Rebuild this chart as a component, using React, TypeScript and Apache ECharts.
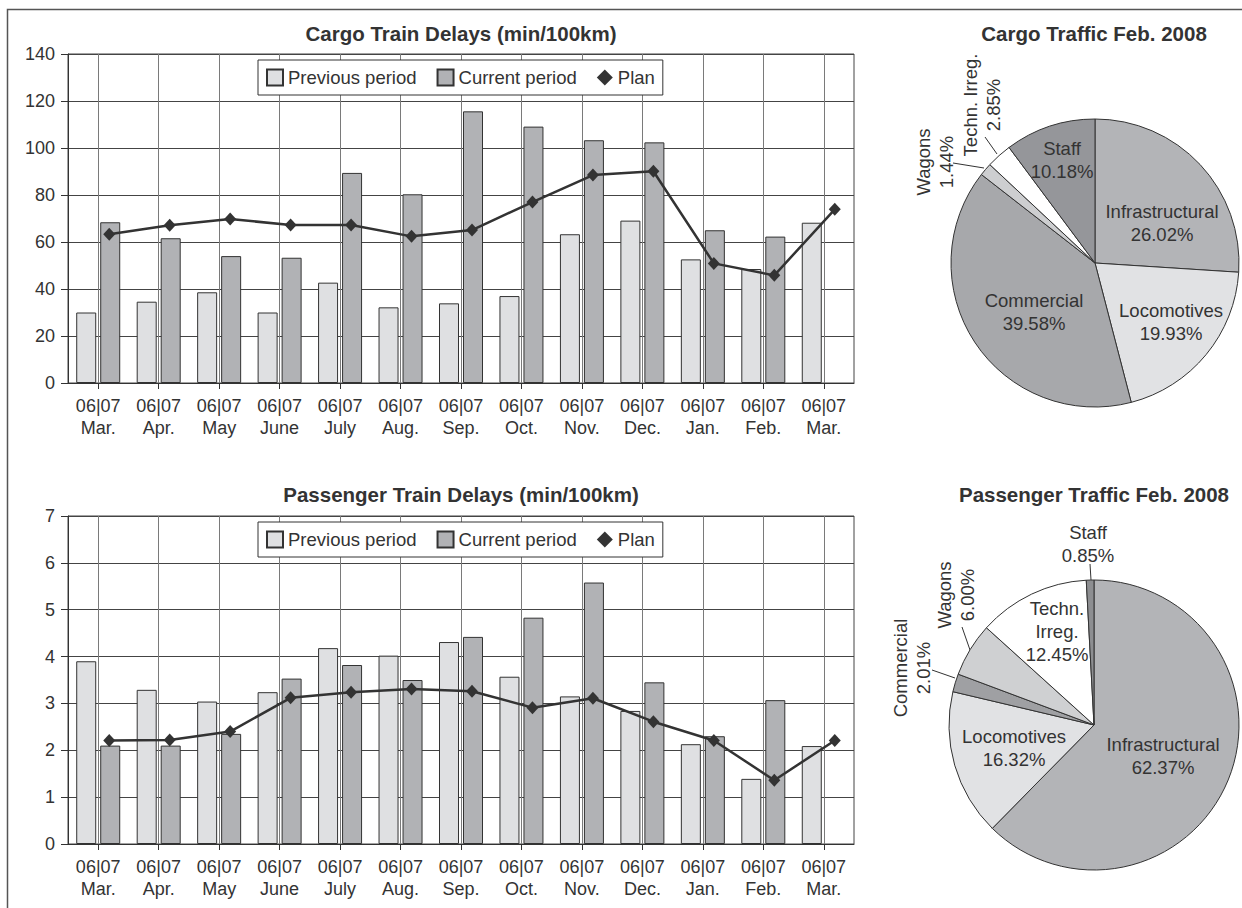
import React, { useEffect, useRef } from "react";
import * as echarts from "echarts";

// ---------- data ----------
const months = ["Mar.", "Apr.", "May", "June", "July", "Aug.", "Sep.", "Oct.", "Nov.", "Dec.", "Jan.", "Feb.", "Mar."];
const periodLabel = "06|07";

const cargoPrev = [30, 34.6, 38.6, 30, 42.7, 32.2, 33.9, 37, 63.3, 69.1, 52.6, 48.5, 68.2];
const cargoCurr = [68.4, 61.6, 54, 53.3, 89.4, 80.3, 115.6, 109.1, 103.3, 102.4, 65, 62.3, null];
const cargoPlan = [63.3, 67.1, 69.8, 67.2, 67.2, 62.4, 65.1, 77, 88.5, 90.1, 50.9, 45.8, 73.9];

const paxPrev = [3.9, 3.29, 3.04, 3.24, 4.18, 4.02, 4.31, 3.57, 3.15, 2.84, 2.13, 1.39, 2.09];
const paxCurr = [2.1, 2.1, 2.35, 3.53, 3.82, 3.5, 4.42, 4.83, 5.58, 3.45, 2.3, 3.07, null];
const paxPlan = [2.21, 2.22, 2.4, 3.12, 3.24, 3.31, 3.26, 2.91, 3.11, 2.61, 2.21, 1.36, 2.21];

const cargoAxis = { min: 0, max: 140, interval: 20 };
const paxAxis = { min: 0, max: 7, interval: 1 };

const causes = ["Infrastructural", "Locomotives", "Commercial", "Wagons", "Techn. Irreg.", "Staff"];
const cargoShares = [26.02, 19.93, 39.58, 1.44, 2.85, 10.18];
const paxShares = [62.37, 16.32, 2.01, 6.0, 12.45, 0.85];

const seriesNames = ["Previous period", "Current period", "Plan"];
const titles = {
  cargoBar: "Cargo Train Delays (min/100km)",
  paxBar: "Passenger Train Delays (min/100km)",
  cargoPie: "Cargo Traffic Feb. 2008",
  paxPie: "Passenger Traffic Feb. 2008",
};

// ---------- styles ----------
const FONT = '"Liberation Sans", Arial, Helvetica, sans-serif';
const TXT = "#333";
const LIGHT = "#dfe0e2";
const DARK = "#b1b2b5";
const cargoColors = ["#b3b4b7", "#e1e2e4", "#a7a8ab", "#cdced0", "#ffffff", "#95969a"];
const paxColors = ["#b3b4b7", "#e1e2e4", "#9fa0a3", "#cfd0d2", "#ffffff", "#8d8e91"];

// label placement (layout only)
const cargoLabelLayout: any[] = [
  { x: 1162, y: 223 },
  { x: 1171, y: 322 },
  { x: 1034, y: 312 },
  { x: 935, y: 162, rotate: 90, line: [[984, 168], [953, 163]] },
  { x: 982, y: 105, rotate: 90, line: [[997, 154], [985, 137]] },
  { x: 1062, y: 160 },
];
const paxLabelLayout: any[] = [
  { x: 1163, y: 756 },
  { x: 1014, y: 748 },
  { x: 912, y: 668, rotate: 90, line: [[955, 678], [932, 670]] },
  { x: 956, y: 595, rotate: 90, line: [[970, 650], [962, 627]] },
  { x: 1057, y: 631 },
  { x: 1088, y: 544, line: [[1091, 580], [1090, 564]] },
];

function layoutFn(table: any[]) {
  return (p: any) => {
    const t = table[p.dataIndex];
    const out: any = { x: t.x, y: t.y, align: "center", verticalAlign: "middle", rotate: t.rotate || 0 };
    if (t.line) out.labelLinePoints = [t.line[0], t.line[1], t.line[1]];
    return out;
  };
}

function barGrid(top: number, height: number) {
  return [
    { left: 68, top, width: 786, height, show: true, borderColor: "#444", borderWidth: 1, backgroundColor: "transparent" },
    { left: 79, top, width: 786, height, show: false },
  ];
}

function xAxes(gi: number) {
  return [
    {
      type: "category",
      gridIndex: gi,
      data: months,
      boundaryGap: true,
      axisLine: { show: true, lineStyle: { color: "#333", width: 1 } },
      axisTick: { show: true, alignWithLabel: true, length: 6, lineStyle: { color: "#333" } },
      axisLabel: {
        interval: 0,
        margin: 12,
        fontSize: 18,
        lineHeight: 22,
        color: TXT,
        fontFamily: FONT,
        formatter: (v: string) => `${periodLabel}\n${v}`,
      },
      splitLine: { show: true, alignWithLabel: true, interval: 0, lineStyle: { color: "#7a7a7a", width: 1 } },
    },
    { type: "category", gridIndex: gi + 1, data: months, show: false, boundaryGap: true },
  ];
}

function yAxes(gi: number, cfg: { min: number; max: number; interval: number }) {
  return [
    {
      type: "value",
      gridIndex: gi,
      ...cfg,
      axisLine: { show: true, lineStyle: { color: "#333", width: 1 } },
      axisTick: { show: true, length: 7, lineStyle: { color: "#333" } },
      axisLabel: { fontSize: 18, color: TXT, fontFamily: FONT, margin: 13 },
      splitLine: { show: true, lineStyle: { color: "#444", width: 1 } },
    },
    { type: "value", gridIndex: gi + 1, ...cfg, show: false, splitLine: { show: false } },
  ];
}

function barSeries(ax: number, prev: any[], curr: any[], plan: any[]) {
  return [
    {
      name: seriesNames[0],
      type: "bar",
      xAxisIndex: ax,
      yAxisIndex: ax,
      data: prev,
      barWidth: 20,
      barGap: "20%",
      itemStyle: { color: LIGHT, borderColor: "#333", borderWidth: 1 },
    },
    {
      name: seriesNames[1],
      type: "bar",
      xAxisIndex: ax,
      yAxisIndex: ax,
      data: curr,
      barWidth: 20,
      barGap: "20%",
      itemStyle: { color: DARK, borderColor: "#333", borderWidth: 1 },
    },
    {
      name: seriesNames[2],
      type: "line",
      xAxisIndex: ax + 1,
      yAxisIndex: ax + 1,
      data: plan,
      symbol: "diamond",
      symbolSize: [12, 13],
      z: 5,
      lineStyle: { color: "#333", width: 2.5 },
      itemStyle: { color: "#333" },
    },
  ];
}

function legend(top: number) {
  return {
    left: 258,
    top,
    orient: "horizontal",
    selectedMode: false,
    backgroundColor: "#fff",
    borderColor: "#333",
    borderWidth: 1,
    padding: [8, 8, 8, 8],
    itemGap: 20,
    itemWidth: 16,
    itemHeight: 16,
    textStyle: { fontSize: 18.5, color: TXT, fontFamily: FONT },
    data: [
      { name: seriesNames[0], icon: "rect" },
      { name: seriesNames[1], icon: "rect" },
      { name: seriesNames[2], icon: "diamond" },
    ],
  };
}

function pieSeries(center: number[], radius: number, shares: number[], colors: string[], table: any[], wrap: boolean) {
  return {
    type: "pie",
    center,
    radius,
    startAngle: 90,
    clockwise: true,
    avoidLabelOverlap: false,
    minShowLabelAngle: 0,
    animation: false,
    data: causes.map((name, i) => ({
      name,
      value: shares[i],
      itemStyle: { color: colors[i] },
      labelLine: table[i].line ? { show: true, length: 8, length2: 4, lineStyle: { color: "#333", width: 1 } } : { show: false },
      label: { position: table[i].line ? "outside" : "inside" },
    })),
    itemStyle: { borderColor: "#333", borderWidth: 1 },
    label: {
      show: true,
      color: TXT,
      fontSize: 18.5,
      lineHeight: 23,
      fontFamily: FONT,
      formatter: (p: any) => `${wrap ? p.name.replace(" ", "\n") : p.name}\n${Number(p.value).toFixed(2)}%`,
    },
    emphasis: { disabled: true },
    labelLayout: layoutFn(table),
  };
}

function titleText(text: string, x: number, y: number) {
  return {
    type: "text",
    x,
    y,
    style: {
      text,
      fontSize: 20.5,
      fontWeight: "bold",
      fontFamily: FONT,
      fill: TXT,
      align: "center",
      textAlign: "center",
      verticalAlign: "middle",
      textVerticalAlign: "middle",
    },
  };
}

export default function App() {
  const ref = useRef<HTMLDivElement>(null);
  useEffect(() => {
    if (!ref.current) return;
    const chart = echarts.init(ref.current, null, { renderer: "svg" });
    const option: any = {
      animation: false,
      backgroundColor: "#fff",
      textStyle: { fontFamily: FONT },
      grid: [...barGrid(54, 329), ...barGrid(516, 328)],
      xAxis: [...xAxes(0), ...xAxes(2)],
      yAxis: [...yAxes(0, cargoAxis), ...yAxes(2, paxAxis)],
      legend: [legend(60), legend(522)],
      series: [
        ...barSeries(0, cargoPrev, cargoCurr, cargoPlan),
        ...barSeries(2, paxPrev, paxCurr, paxPlan),
        pieSeries([1095, 263], 144, cargoShares, cargoColors, cargoLabelLayout, false),
        pieSeries([1094, 725], 145, paxShares, paxColors, paxLabelLayout, true),
      ],
      graphic: [
        {
          type: "rect",
          shape: { x: 7.5, y: 9.5, width: 1400, height: 1000 },
          style: { fill: "none", stroke: "#555", lineWidth: 1.5 },
          silent: true,
        },
        titleText(titles.cargoBar, 461, 33),
        titleText(titles.paxBar, 461, 494),
        titleText(titles.cargoPie, 1094, 33),
        titleText(titles.paxPie, 1094, 494),
      ],
    };
    chart.setOption(option);
    return () => chart.dispose();
  }, []);
  return (
    <div
      ref={ref}
      style={{ position: "fixed", left: 0, top: 0, width: 1242, height: 908, background: "#fff" }}
    />
  );
}
